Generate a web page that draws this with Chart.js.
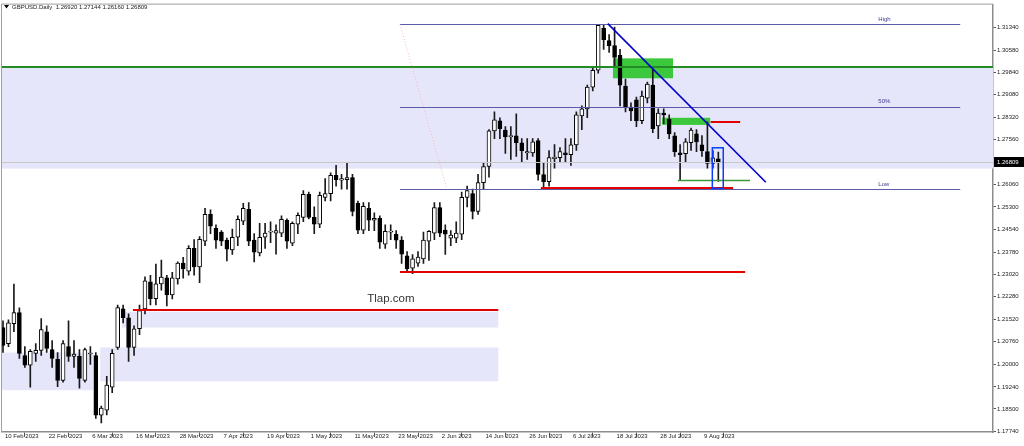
<!DOCTYPE html>
<html>
<head>
<meta charset="utf-8">
<title>GBPUSD Daily</title>
<script src="https://cdn.jsdelivr.net/npm/chart.js@4.4.0/dist/chart.umd.min.js"></script>
<style>
  html, body { margin: 0; padding: 0; background: #fff; }
  canvas { display: block; }
</style>
</head>
<body>
<canvas id="gbpChart" width="1024" height="446"></canvas>
<script>
// GBPUSD daily candles, one per weekday from 10 Feb 2023 to 14 Aug 2023
const opens = [
  1.2124, 1.2070, 1.2137, 1.2174, 1.2030, 1.1997, 1.2037, 1.2047, 1.2110, 1.2050,
  1.2017, 1.1946, 1.2060, 1.2027, 1.2027, 1.1946, 1.2035, 1.2030, 1.1829, 1.1846,
  1.1923, 1.2057, 1.2187, 1.2157, 1.2057, 1.2120, 1.2187, 1.2278, 1.2221, 1.2271,
  1.2291, 1.2234, 1.2288, 1.2341, 1.2314, 1.2391, 1.2328, 1.2415, 1.2505, 1.2458,
  1.2445, 1.2418, 1.2385, 1.2428, 1.2482, 1.2522, 1.2418, 1.2375, 1.2428, 1.2445,
  1.2442, 1.2442, 1.2485, 1.2408, 1.2472, 1.2495, 1.2572, 1.2495, 1.2472, 1.2562,
  1.2575, 1.2636, 1.2620, 1.2622, 1.2629, 1.2542, 1.2452, 1.2525, 1.2485, 1.2492,
  1.2405, 1.2445, 1.2438, 1.2418, 1.2365, 1.2324, 1.2341, 1.2355, 1.2415, 1.2442,
  1.2528, 1.2452, 1.2425, 1.2425, 1.2438, 1.2562, 1.2575, 1.2515, 1.2612, 1.2666,
  1.2786, 1.2820, 1.2789, 1.2766, 1.2769, 1.2746, 1.2712, 1.2712, 1.2753, 1.2639,
  1.2615, 1.2692, 1.2696, 1.2712, 1.2706, 1.2739, 1.2836, 1.2860, 1.2933, 1.2990,
  1.3131, 1.3090, 1.3073, 1.3040, 1.2937, 1.2866, 1.2890, 1.2820, 1.2896, 1.2940,
  1.2803, 1.2846, 1.2826, 1.2769, 1.2712, 1.2709, 1.2746, 1.2776, 1.2739, 1.2716,
  1.2676, 1.26920
];
const highs = [
  1.2147, 1.2150, 1.2270, 1.2190, 1.2060, 1.2050, 1.2070, 1.2154, 1.2130, 1.2080,
  1.2040, 1.2080, 1.2147, 1.2080, 1.2050, 1.2055, 1.2060, 1.2040, 1.1860, 1.1960,
  1.2050, 1.2200, 1.2200, 1.2170, 1.2130, 1.2200, 1.2295, 1.2300, 1.2338, 1.2351,
  1.2300, 1.2310, 1.2345, 1.2360, 1.2400, 1.2420, 1.2430, 1.2525, 1.2520, 1.2470,
  1.2450, 1.2425, 1.2455, 1.2500, 1.2542, 1.2545, 1.2440, 1.2475, 1.2475, 1.2480,
  1.2470, 1.2500, 1.2490, 1.2480, 1.2510, 1.2585, 1.2580, 1.2530, 1.2580, 1.2625,
  1.2645, 1.2670, 1.2640, 1.2680, 1.2640, 1.2550, 1.2545, 1.2545, 1.2510, 1.2500,
  1.2470, 1.2470, 1.2450, 1.2430, 1.2380, 1.2370, 1.2380, 1.2445, 1.2450, 1.2545,
  1.2545, 1.2470, 1.2450, 1.2480, 1.2580, 1.2600, 1.2590, 1.2640, 1.2680, 1.2790,
  1.2850, 1.2830, 1.2800, 1.2800, 1.2843, 1.2760, 1.2760, 1.2760, 1.2760, 1.2680,
  1.2720, 1.2740, 1.2730, 1.2760, 1.2760, 1.2850, 1.2870, 1.2940, 1.3000, 1.3144,
  1.3144, 1.3110, 1.3135, 1.3060, 1.2960, 1.2880, 1.2900, 1.2920, 1.2950, 1.2995,
  1.2860, 1.2860, 1.2840, 1.2780, 1.2740, 1.2760, 1.2795, 1.2790, 1.2770, 1.2816,
  1.2720, 1.27144
];
const lows = [
  1.2040, 1.2060, 1.2110, 1.2020, 1.1990, 1.1923, 1.2010, 1.2030, 1.2040, 1.1990,
  1.1925, 1.1940, 1.2010, 1.1990, 1.1920, 1.1940, 1.2000, 1.1818, 1.1803, 1.1830,
  1.1905, 1.2050, 1.2140, 1.2010, 1.2030, 1.2100, 1.2170, 1.2200, 1.2200, 1.2250,
  1.2197, 1.2220, 1.2270, 1.2290, 1.2300, 1.2300, 1.2275, 1.2400, 1.2440, 1.2390,
  1.2400, 1.2348, 1.2370, 1.2400, 1.2470, 1.2400, 1.2345, 1.2365, 1.2390, 1.2410,
  1.2371, 1.2430, 1.2390, 1.2400, 1.2440, 1.2480, 1.2490, 1.2440, 1.2460, 1.2550,
  1.2550, 1.2600, 1.2590, 1.2590, 1.2500, 1.2440, 1.2440, 1.2450, 1.2450, 1.2390,
  1.2390, 1.2420, 1.2390, 1.2340, 1.2311, 1.2305, 1.2330, 1.2340, 1.2350, 1.2420,
  1.2430, 1.2370, 1.2400, 1.2410, 1.2420, 1.2530, 1.2490, 1.2505, 1.2590, 1.2630,
  1.2760, 1.2760, 1.2710, 1.2690, 1.2700, 1.2680, 1.2690, 1.2700, 1.2620, 1.2592,
  1.2600, 1.2660, 1.2680, 1.2680, 1.2670, 1.2720, 1.2790, 1.2830, 1.2920, 1.2980,
  1.3060, 1.3050, 1.3000, 1.2870, 1.2850, 1.2820, 1.2800, 1.2810, 1.2880, 1.2780,
  1.2760, 1.2810, 1.2760, 1.2700, 1.2622, 1.2680, 1.2720, 1.2716, 1.2700, 1.2660,
  1.2660, 1.26160
];
const closes = [
  1.2064, 1.2140, 1.2174, 1.2037, 1.1997, 1.2044, 1.2047, 1.2117, 1.2054, 1.2020,
  1.1946, 1.2070, 1.2027, 1.2035, 1.1953, 1.2050, 1.2038, 1.1829, 1.1853, 1.1930,
  1.2037, 1.2191, 1.2157, 1.2057, 1.2120, 1.2181, 1.2281, 1.2221, 1.2271, 1.2294,
  1.2234, 1.2291, 1.2341, 1.2321, 1.2391, 1.2328, 1.2421, 1.2505, 1.2465, 1.2418,
  1.2415, 1.2388, 1.2428, 1.2488, 1.2525, 1.2415, 1.2378, 1.2428, 1.2442, 1.2447,
  1.2450, 1.2488, 1.2415, 1.2475, 1.2502, 1.2572, 1.2495, 1.2472, 1.2569, 1.2575,
  1.2636, 1.2622, 1.2625, 1.2629, 1.2515, 1.2452, 1.2532, 1.2485, 1.2492, 1.2411,
  1.2448, 1.2448, 1.2418, 1.2371, 1.2321, 1.2355, 1.2361, 1.2418, 1.2448, 1.2528,
  1.2442, 1.2438, 1.2435, 1.2442, 1.2562, 1.2585, 1.2515, 1.2612, 1.2666, 1.2786,
  1.2823, 1.2793, 1.2766, 1.2770, 1.2746, 1.2719, 1.2716, 1.2749, 1.2639, 1.2615,
  1.2696, 1.2698, 1.2716, 1.2706, 1.2739, 1.2840, 1.2860, 1.2933, 1.2990, 1.3141,
  1.3093, 1.3073, 1.3033, 1.2940, 1.2866, 1.2853, 1.2820, 1.2903, 1.2943, 1.2793,
  1.2846, 1.2840, 1.2776, 1.2716, 1.2706, 1.2749, 1.2789, 1.2749, 1.2719, 1.2676,
  1.2695, 1.26809
];

// bottom axis: bar number of each date label
const tickBars = [0, 8, 16, 24, 32, 40, 48, 56, 64, 72, 80, 88, 96, 104, 112, 120, 128];
const tickLabels = [
  "10 Feb 2023", "22 Feb 2023", "6 Mar 2023", "16 Mar 2023", "28 Mar 2023",
  "7 Apr 2023", "19 Apr 2023", "1 May 2023", "11 May 2023", "23 May 2023",
  "2 Jun 2023", "14 Jun 2023", "26 Jun 2023", "6 Jul 2023", "18 Jul 2023",
  "28 Jul 2023", "9 Aug 2023"
];
// right axis price labels
const priceTicks = [
  1.31340, 1.30580, 1.29840, 1.29080, 1.28320, 1.27560, 1.26060, 1.25300,
  1.24540, 1.23780, 1.23020, 1.22280, 1.21520, 1.20760, 1.20000, 1.19240,
  1.18500, 1.17740
];
const lastPrice = 1.26809;
const titleText = "GBPUSD.Daily  1.26920 1.27144 1.26160 1.26809";

// objects drawn on the chart (bar number / price)
const zones = [
  { x0: -2, x1: 190, top: 1.3000, bottom: 1.2659, color: "#e6e6fa" },
  { x0: 21.8, x1: 90.7, top: 1.2177, bottom: 1.2124, color: "#e6e6fa" },
  { x0: 17.8, x1: 90.7, top: 1.2057, bottom: 1.1943, color: "#e6e6fa" },
  { x0: -2, x1: 16.5, top: 1.2040, bottom: 1.1913, color: "#e6e6fa" },
  { x0: 111.7, x1: 122.7, top: 1.3030, bottom: 1.2963, color: "#3cc83c" },
  { x0: 120.7, x1: 129.5, top: 1.2830, bottom: 1.2806, color: "#3cc83c" }
];
const hLines = [
  { x0: -2, x1: 190, price: 1.26809, color: "#c8c8c8", width: 1 },
  { x0: -2, x1: 190, price: 1.3000, color: "#228b22", width: 2 },
  { x0: 72.7, x1: 175.3, price: 1.3144, color: "#5a5aa8", width: 1 },
  { x0: 72.7, x1: 175.3, price: 1.2867, color: "#5a5aa8", width: 1 },
  { x0: 72.7, x1: 175.3, price: 1.2590, color: "#5a5aa8", width: 1 },
  { x0: 72.7, x1: 135.9, price: 1.2311, color: "#e00000", width: 2 },
  { x0: 23.8, x1: 90.7, price: 1.2184, color: "#e00000", width: 2 },
  { x0: 98.5, x1: 133.7, price: 1.2593, color: "#e00000", width: 2 },
  { x0: 129.6, x1: 135.0, price: 1.2816, color: "#e00000", width: 2 },
  { x0: 123.6, x1: 136.8, price: 1.2622, color: "#3a9a3a", width: 1.5 }
];
const trendLine = { x0: 110.75, p0: 1.3147, x1: 139.7, p1: 1.2613 };
const fibDiagonal = { x0: 72.7, p0: 1.3144, x1: 81.3, p1: 1.2590 };
const blueBox = { x0: 129.9, x1: 131.9, top: 1.2729, bottom: 1.2592 };
const fibLabels = [
  { x: 160.3, price: 1.3144, text: "High" },
  { x: 160.3, price: 1.2867, text: "50%" },
  { x: 160.3, price: 1.2590, text: "Low" }
];
const watermark = { x: 66.7, price: 1.2221, text: "Tlap.com" };

const bodyData = opens.map((o, i) => ({ x: i, y: [Math.min(o, closes[i]), Math.max(o, closes[i])] }));
const wickData = opens.map((o, i) => ({ x: i, y: [lows[i], highs[i]] }));
const bodyColors = opens.map((o, i) => (closes[i] >= o ? "#ffffff" : "#000000"));

const overlay = {
    id: "overlay",
    beforeDatasetsDraw(chart) {
        const { ctx, chartArea: a, scales: { x, y } } = chart;
        ctx.save();
        ctx.beginPath();
        ctx.rect(a.left, a.top, a.right - a.left, a.bottom - a.top);
        ctx.clip();
        zones.forEach(z => {
            const l = x.getPixelForValue(z.x0), r = x.getPixelForValue(z.x1);
            const t = y.getPixelForValue(z.top), b = y.getPixelForValue(z.bottom);
            ctx.fillStyle = z.color;
            ctx.fillRect(l, t, r - l, b - t);
        });
        ctx.restore();
    },
    afterDatasetsDraw(chart) {
        const { ctx, chartArea: a, scales: { x, y } } = chart;
        ctx.save();
        ctx.beginPath();
        ctx.rect(a.left, a.top, a.right - a.left, a.bottom - a.top);
        ctx.clip();

        hLines.forEach(h => {
            const py = Math.round(y.getPixelForValue(h.price)) + (h.width % 2 ? 0.5 : 0);
            ctx.strokeStyle = h.color;
            ctx.lineWidth = h.width;
            ctx.beginPath();
            ctx.moveTo(x.getPixelForValue(h.x0), py);
            ctx.lineTo(x.getPixelForValue(h.x1), py);
            ctx.stroke();
        });

        // fibo diagonal (faint dotted)
        ctx.strokeStyle = "#f2b8b8";
        ctx.lineWidth = 1;
        ctx.setLineDash([1, 2]);
        ctx.beginPath();
        ctx.moveTo(x.getPixelForValue(fibDiagonal.x0), y.getPixelForValue(fibDiagonal.p0));
        ctx.lineTo(x.getPixelForValue(fibDiagonal.x1), y.getPixelForValue(fibDiagonal.p1));
        ctx.stroke();
        ctx.setLineDash([]);

        // trend line
        ctx.strokeStyle = "#0000c8";
        ctx.lineWidth = 1.6;
        ctx.beginPath();
        ctx.moveTo(x.getPixelForValue(trendLine.x0), y.getPixelForValue(trendLine.p0));
        ctx.lineTo(x.getPixelForValue(trendLine.x1), y.getPixelForValue(trendLine.p1));
        ctx.stroke();

        // blue box round last candle
        ctx.strokeStyle = "#0a3cff";
        ctx.lineWidth = 1.5;
        const bl = x.getPixelForValue(blueBox.x0), br = x.getPixelForValue(blueBox.x1);
        const bt = y.getPixelForValue(blueBox.top), bb = y.getPixelForValue(blueBox.bottom);
        ctx.strokeRect(bl, bt, br - bl, bb - bt);

        // fibo level names
        ctx.fillStyle = "#3c3c8c";
        ctx.font = "6px 'Liberation Sans', sans-serif";
        ctx.textBaseline = "bottom";
        fibLabels.forEach(f => {
            ctx.fillText(f.text, x.getPixelForValue(f.x), y.getPixelForValue(f.price) - 2);
        });

        ctx.fillStyle = "#333";
        ctx.font = "11.5px 'Liberation Sans', sans-serif";
        ctx.textBaseline = "middle";
        ctx.fillText(watermark.text, x.getPixelForValue(watermark.x), y.getPixelForValue(watermark.price));
        ctx.restore();
    },
    afterDraw(chart) {
        const { ctx, chartArea: a, scales: { y } } = chart;
        ctx.save();
        // frame left/top
        ctx.strokeStyle = "#a0a0a0";
        ctx.lineWidth = 1;
        ctx.beginPath();
        ctx.moveTo(a.left - 0.5, a.bottom);
        ctx.lineTo(a.left - 0.5, a.top - 0.5);
        ctx.lineTo(a.right, a.top - 0.5);
        ctx.stroke();

        // title
        ctx.fillStyle = "#000";
        ctx.beginPath();
        ctx.moveTo(4, 5); ctx.lineTo(9, 5); ctx.lineTo(6.5, 8.5); ctx.closePath();
        ctx.fill();
        ctx.font = "6px 'Liberation Sans', sans-serif";
        ctx.textBaseline = "middle";
        ctx.fillStyle = "#222";
        ctx.fillText(titleText, 12, 7);

        // last price label
        const py = Math.round(y.getPixelForValue(lastPrice));
        ctx.fillStyle = "#000";
        ctx.fillRect(a.right + 1, py - 5, 1024 - a.right - 1, 10);
        ctx.fillStyle = "#fff";
        ctx.fillText(lastPrice.toFixed(5), a.right + 4, py);
        ctx.restore();
    }
};

new Chart(document.getElementById("gbpChart"), {
    type: "bar",
    data: {
        datasets: [
            {
                label: "body",
                data: bodyData,
                backgroundColor: bodyColors,
                borderColor: "#000000",
                borderWidth: 1,
                borderSkipped: false,
                barThickness: 4,
                minBarLength: 1,
                grouped: false,
                order: 0,
            },
            {
                label: "wick",
                data: wickData,
                backgroundColor: "#1a1a1a",
                borderWidth: 0,
                barThickness: 1,
                grouped: false,
                order: 1,
            },
        ],
    },
    options: {
        responsive: false,
        animation: false,
        layout: { padding: { left: 2, top: 2, right: 0, bottom: 0 } },
        plugins: {
            legend: { display: false },
            tooltip: { enabled: false },
        },
        scales: {
            x: {
                type: "linear",
                min: -0.183,
                max: 181.3,
                offset: false,
                afterBuildTicks: s => { s.ticks = tickBars.map(v => ({ value: v })); },
                afterFit: s => { s.height = 14; },
                grid: { drawOnChartArea: false, drawTicks: true, tickLength: 5, color: "#555" },
                border: { color: "#8c8c8c", width: 1.5 },
                ticks: {
                    autoSkip: false,
                    maxRotation: 0,
                    align: "start",
                    labelOffset: 2,
                    padding: -4,
                    color: "#222",
                    font: { family: "'Liberation Sans', sans-serif", size: 6 },
                    callback: v => tickLabels[tickBars.indexOf(v)] || "",
                },
            },
            y: {
                position: "right",
                min: 1.17725,
                max: 1.32109,
                afterBuildTicks: s => { s.ticks = priceTicks.map(v => ({ value: v })); },
                afterFit: s => { s.width = 31; },
                grid: { drawOnChartArea: false, drawTicks: true, tickLength: 3, color: "#555" },
                border: { color: "#8c8c8c", width: 1.5 },
                ticks: {
                    autoSkip: false,
                    padding: 1,
                    color: "#222",
                    font: { family: "'Liberation Sans', sans-serif", size: 6 },
                    callback: v => v.toFixed(5),
                },
            },
        },
    },
    plugins: [overlay],
});
</script>
</body>
</html>
